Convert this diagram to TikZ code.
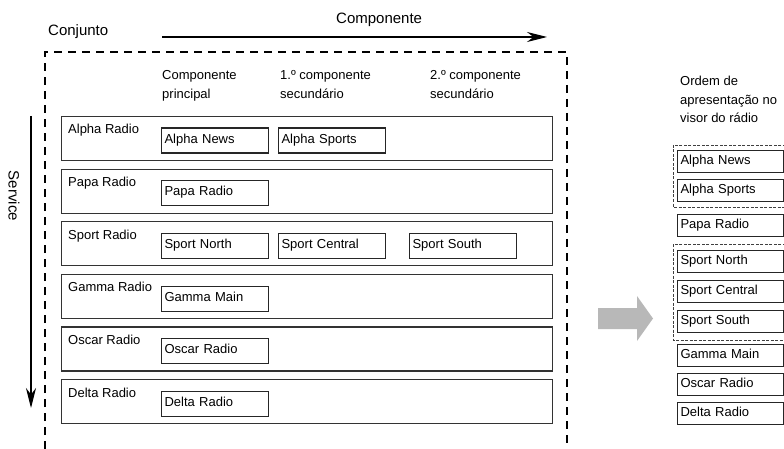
\documentclass[tikz,border=0pt]{standalone}
\usepackage{fontspec}
\setmainfont{Liberation Sans}
\usetikzlibrary{arrows.meta}
\begin{document}
\begin{tikzpicture}[x=1pt,y=-1pt,
  txt/.style={inner sep=0pt, anchor=base west, font=\fontsize{13}{15}\selectfont},
  bigtxt/.style={inner sep=0pt, anchor=base west, font=\fontsize{15}{18}\selectfont},
  rowbox/.style={draw=black!80, line width=1.1pt, minimum width=491pt, minimum height=44pt, anchor=north west, inner sep=0pt},
  chbox/.style={draw=black!85, line width=1.1pt, minimum height=25pt, anchor=north west,
     text width=101pt, inner xsep=3pt, inner ysep=0pt, align=left, text height=9.5pt, text depth=4.5pt,
     font=\fontsize{13}{15}\selectfont},
  listbox/.style={draw=black!85, line width=1.1pt, minimum height=22pt, anchor=north west,
     text width=100pt, inner xsep=3pt, inner ysep=0pt, align=left, text height=9.5pt, text depth=3pt,
     font=\fontsize{13}{15}\selectfont},
  frame/.style={line width=2.3pt, dash pattern=on 8pt off 6pt},
  grp/.style={line width=0.7pt, draw=black!75, dash pattern=on 3pt off 1.5pt},
  axis/.style={line width=1.2pt, -{Stealth[length=20pt,width=10pt]}}
]
\useasboundingbox (0,0) rectangle (784,449);

% titles
\node[bigtxt] (conj) at (48,36) {Conjunto};
\node[bigtxt] (comp) at (336,24) {Componente};
\coordinate (cA) at (162,37);
\coordinate (cB) at (547,37);
\draw[axis] (cA) -- (cB);

% main dashed frame (open at the bottom)
\draw[frame] (45,449) -- (45,52) -- (567,52) -- (567,449);

% column headers
\node[txt] (h1a) at (162,80) {Componente};
\node[txt] (h1b) at (162,99) {principal};
\node[txt] (h2a) at (280,80) {1.º componente};
\node[txt] (h2b) at (280,99) {secundário};
\node[txt] (h3a) at (430,80) {2.º componente};
\node[txt] (h3b) at (430,99) {secundário};

% service axis
\node[inner sep=0pt, rotate=-90, font=\fontsize{15}{18}\selectfont] (serv) at (14,196) {Service};
\coordinate (sA) at (31,116);
\coordinate (sB) at (31,408);
\draw[axis] (sA) -- (sB);

% rows
\node[rowbox] (r1) at (61,116) {};
\node[txt] (l1) at (68,134) {Alpha Radio};
\node[chbox] (b11) at (161,127.5) {Alpha News};
\node[chbox] (b12) at (278,127.5) {Alpha Sports};

\node[rowbox] (r2) at (61,168.6) {};
\node[txt] (l2) at (68,186.6) {Papa Radio};
\node[chbox] (b21) at (161,180.1) {Papa Radio};

\node[rowbox] (r3) at (61,221.2) {};
\node[txt] (l3) at (68,239.2) {Sport Radio};
\node[chbox] (b31) at (161,232.7) {Sport North};
\node[chbox] (b32) at (278,232.7) {Sport Central};
\node[chbox] (b33) at (409,232.7) {Sport South};

\node[rowbox] (r4) at (61,273.8) {};
\node[txt] (l4) at (68,291.8) {Gamma Radio};
\node[chbox] (b41) at (161,285.5) {Gamma Main};

\node[rowbox] (r5) at (61,326.4) {};
\node[txt] (l5) at (68,344.4) {Oscar Radio};
\node[chbox] (b51) at (161,338) {Oscar Radio};

\node[rowbox] (r6) at (61,379) {};
\node[txt] (l6) at (68,397) {Delta Radio};
\node[chbox] (b61) at (161,390.5) {Delta Radio};

% gray block arrow
\fill[black!28] (598,308) -- (637,308) -- (637,296) -- (653,318.5) -- (637,341) -- (637,329) -- (598,329) -- cycle;

% right column
\node[txt] (o1) at (680,86) {Ordem de};
\node[txt] (o2) at (680,104.5) {apresentação no};
\node[txt] (o3) at (680,123) {visor do rádio};

\draw[grp] (790,145) -- (673,145) -- (673,207) -- (790,207);
\draw[grp] (790,244) -- (673,244) -- (673,340) -- (790,340);

\node[listbox] (p1) at (677,150) {Alpha News};
\node[listbox] (p2) at (677,179) {Alpha Sports};
\node[listbox] (p3) at (677,214) {Papa Radio};
\node[listbox] (p4) at (677,250) {Sport North};
\node[listbox] (p5) at (677,280) {Sport Central};
\node[listbox] (p6) at (677,310) {Sport South};
\node[listbox] (p7) at (677,344) {Gamma Main};
\node[listbox] (p8) at (677,373) {Oscar Radio};
\node[listbox] (p9) at (677,402) {Delta Radio};
\end{tikzpicture}
\end{document}
